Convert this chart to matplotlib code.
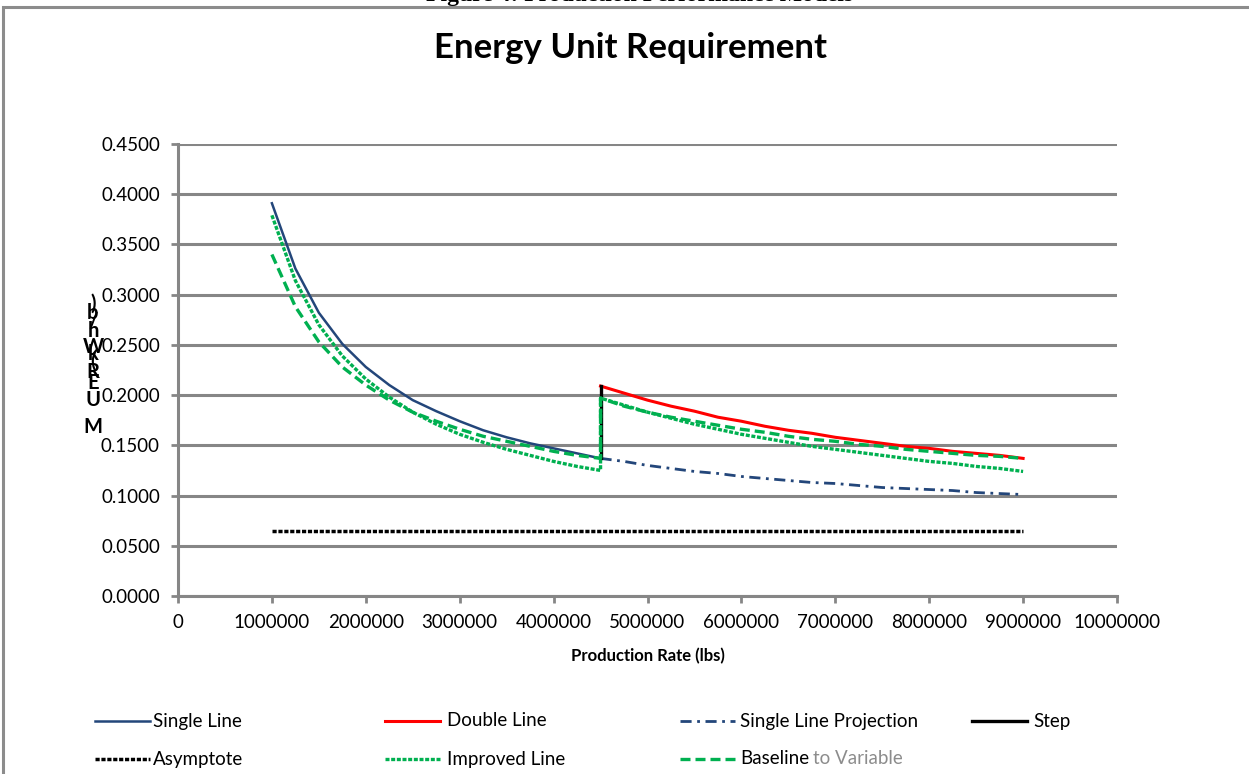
import numpy as np
import matplotlib
matplotlib.use("Agg")
import matplotlib.pyplot as plt
from matplotlib.lines import Line2D
from matplotlib.patches import Rectangle

plt.rcParams['font.family'] = ['Lato', 'DejaVu Sans']

# production rate in millions of lbs
x_low = [1.0, 1.25, 1.5, 1.75, 2.0, 2.25, 2.5, 2.75, 3.0, 3.25, 3.5, 3.75, 4.0, 4.25, 4.5]
x_high = [4.5, 4.75, 5.0, 5.25, 5.5, 5.75, 6.0, 6.25, 6.5, 6.75, 7.0, 7.25, 7.5, 7.75,
          8.0, 8.25, 8.5, 8.75, 9.0]

single_line = [0.391, 0.326, 0.282, 0.251, 0.228, 0.210, 0.195, 0.184, 0.174, 0.165,
               0.158, 0.152, 0.147, 0.142, 0.137]
projection = [0.137, 0.134, 0.130, 0.127, 0.124, 0.122, 0.119, 0.117, 0.115, 0.113,
              0.112, 0.110, 0.108, 0.107, 0.106, 0.105, 0.103, 0.102, 0.101]
double_line = [0.209, 0.202, 0.195, 0.189, 0.184, 0.178, 0.174, 0.169, 0.165, 0.162,
               0.158, 0.155, 0.152, 0.149, 0.147, 0.144, 0.142, 0.140, 0.137]
improved_low = [0.379, 0.314, 0.270, 0.239, 0.216, 0.198, 0.183, 0.171, 0.161, 0.153,
                0.146, 0.140, 0.134, 0.129, 0.125]
improved_high = [0.197, 0.190, 0.183, 0.177, 0.171, 0.166, 0.161, 0.157, 0.153, 0.149,
                 0.146, 0.143, 0.140, 0.137, 0.134, 0.132, 0.129, 0.127, 0.124]
baseline_low = [0.340, 0.288, 0.253, 0.228, 0.210, 0.195, 0.183, 0.174, 0.166, 0.159,
                0.154, 0.149, 0.144, 0.140, 0.137]
baseline_high = [0.197, 0.189, 0.183, 0.178, 0.174, 0.170, 0.166, 0.163, 0.159, 0.156,
                 0.154, 0.151, 0.149, 0.146, 0.144, 0.142, 0.140, 0.139, 0.137]
step_x = [4.5, 4.5]
step_y = [0.137, 0.209]
asym_x = [1.0, 9.0]
asym_y = [0.065, 0.065]

BLUE = '#23467A'
RED = '#FF0000'
GREEN = '#00B050'
GRID = '#868686'

styles = {
    'Single Line': dict(color=BLUE, lw=1.8, ls='-'),
    'Double Line': dict(color=RED, lw=2.2, ls='-'),
    'Single Line Projection': dict(color=BLUE, lw=2.0, ls=(0, (4, 2, 1, 2))),
    'Step': dict(color='black', lw=2.4, ls='-'),
    'Asymptote': dict(color='black', lw=2.5, ls=(0, (1.2, 0.5))),
    'Improved Line': dict(color=GREEN, lw=2.4, ls=(0, (1.2, 0.5))),
    'Baseline to Variable': dict(color=GREEN, lw=2.4, ls=(0, (3, 1.5))),
}

M = 1e6
fig = plt.figure(figsize=(12.49, 7.74), dpi=100)
ax = fig.add_axes([178 / 1249, 1 - 596 / 774, (1117 - 178) / 1249, (596 - 144) / 774])

ax.plot(np.array(x_low) * M, single_line, **styles['Single Line'])
ax.plot(np.array(x_high) * M, projection, **styles['Single Line Projection'])
ax.plot(np.array(x_high) * M, double_line, **styles['Double Line'])
ax.plot(np.array(step_x) * M, step_y, **styles['Step'])
ax.plot(np.array(asym_x) * M, asym_y, **styles['Asymptote'])
ax.plot(np.array(x_low + x_high) * M, baseline_low + baseline_high,
        **styles['Baseline to Variable'])
ax.plot(np.array(x_low + x_high) * M, improved_low + improved_high,
        **styles['Improved Line'])

ax.set_xlim(0, 10 * M)
ax.set_ylim(0, 0.45)
ax.set_xticks(np.arange(0, 11) * M)
ax.set_xticklabels(['0'] + [str(int(v * M)) for v in range(1, 11)])
ax.set_yticks(np.arange(0, 0.451, 0.05))
ax.set_yticklabels(['%.4f' % v for v in np.arange(0, 0.451, 0.05)])
ax.grid(axis='y', color=GRID, lw=2.2)
ax.set_axisbelow(True)
for s in ['top', 'right']:
    ax.spines[s].set_visible(False)
for s in ['left', 'bottom']:
    ax.spines[s].set_color(GRID)
    ax.spines[s].set_linewidth(2.2)
ax.tick_params(colors=GRID, length=5, width=2, labelcolor='black', labelsize=13.5, pad=8)
ax.set_xlabel('Production Rate (lbs)', fontsize=12, fontweight='bold', labelpad=12)

fig.text(630 / 1249, 1 - 48 / 774, 'Energy Unit Requirement', fontsize=25,
         fontweight='bold', ha='center', va='center')

# stacked y-axis label letters
ylab_chars = [')', 'b', '/', 'h', 'W', 'k', '(', 'R', 'E', 'U', 'M']
ylab_pix = [304, 313, 321, 331, 347, 354, 362, 372, 383, 400, 427]
for ch, py in zip(ylab_chars, ylab_pix):
    fig.text(93 / 1249, 1 - py / 774, ch, fontsize=14.5, fontweight='bold',
             ha='center', va='center')

# outer frame and the caption sitting above it
fig.patches.append(Rectangle((3, -20), 1300, 767 + 20, transform=None,
                             fill=False, edgecolor='#8C8C8C', lw=2.2))
fig.text(640 / 1249, 1 - 1 / 774, 'Figure 4: Production Performance Models',
         family=['Liberation Serif'], fontsize=17, fontweight='bold',
         ha='center', va='baseline')

# legend
legend_rows = [
    [('Single Line', 95, 153), ('Double Line', 385, 447),
     ('Single Line Projection', 680, 740), ('Step', 972, 1033)],
    [('Asymptote', 95, 153), ('Improved Line', 385, 447),
     ('Baseline to Variable', 680, 740)],
]
for row, py in zip(legend_rows, [721, 759]):
    yf = 1 - py / 774
    for name, hx, tx in row:
        st = dict(styles[name])
        fig.add_artist(Line2D([hx / 1249, (hx + 55) / 1249], [yf, yf],
                              transform=fig.transFigure, **st))
        if name == 'Baseline to Variable':
            t = fig.text(tx / 1249, yf, 'Baseline', fontsize=13.5, va='center')
            fig.canvas.draw()
            bb = t.get_window_extent()
            fig.text((bb.x1 + 4) / 1249, yf, 'to Variable', fontsize=13.5,
                     va='center', color='#8C8C8C')
        else:
            fig.text(tx / 1249, yf, name, fontsize=13.5, va='center')

fig.savefig('out.png', dpi=100)
